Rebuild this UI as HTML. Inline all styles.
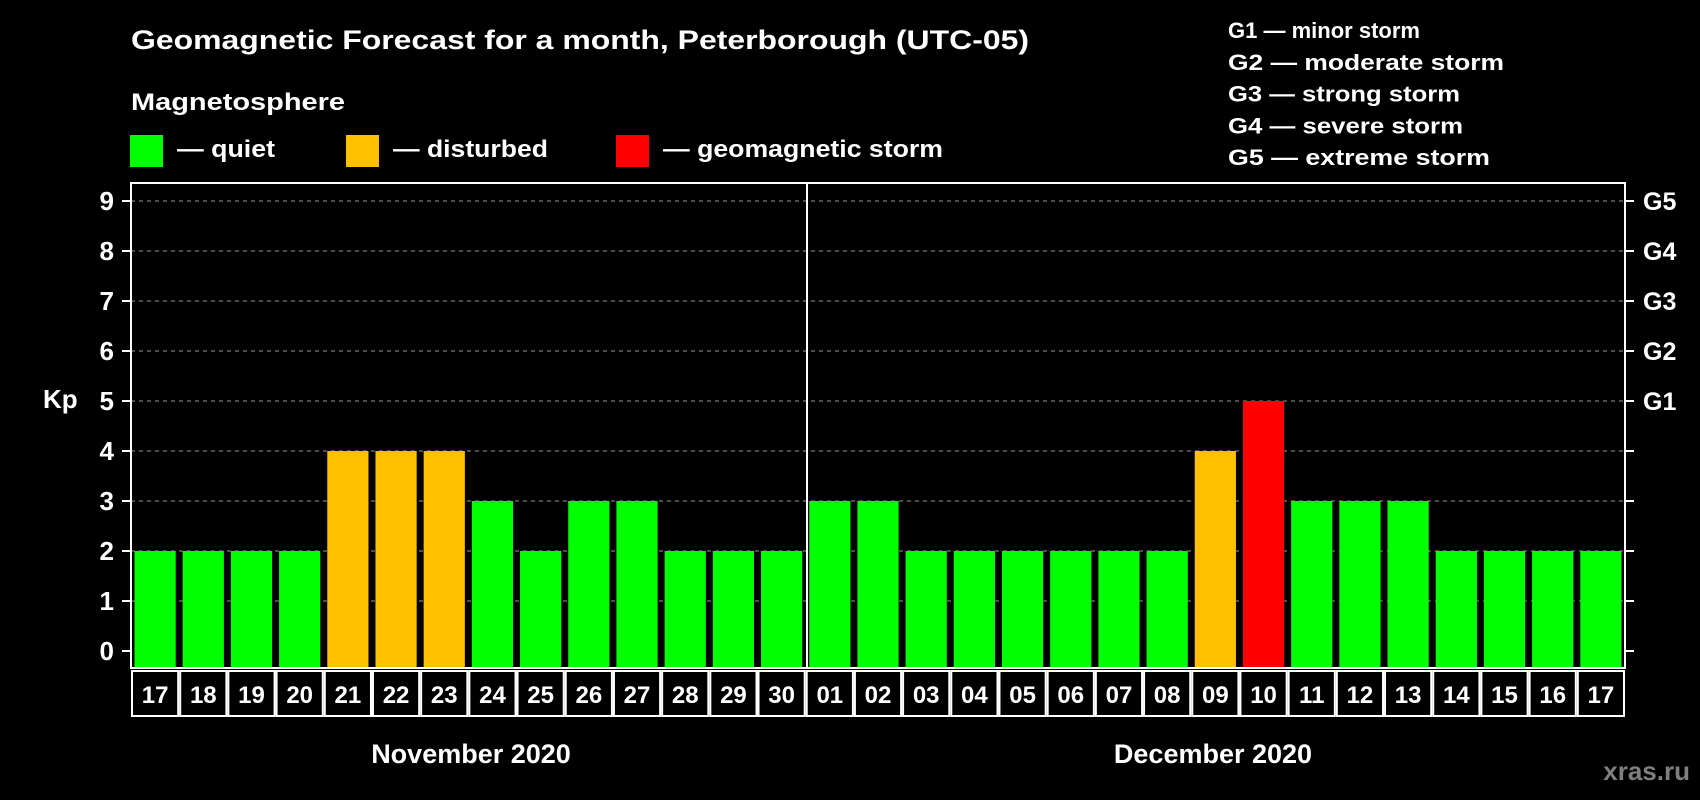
<!DOCTYPE html>
<html><head><meta charset="utf-8"><style>
html,body{margin:0;padding:0;background:#000;}
svg{display:block;font-family:"Liberation Sans",Arial,sans-serif;}
</style></head><body>
<svg id="chart" width="1700" height="800" viewBox="0 0 1700 800" xmlns="http://www.w3.org/2000/svg">
<rect x="0" y="0" width="1700" height="800" fill="#000"/>
<text x="131" y="49" fill="#fff" font-size="27" font-weight="bold" textLength="898" lengthAdjust="spacingAndGlyphs">Geomagnetic Forecast for a month, Peterborough (UTC-05)</text>
<text x="131" y="110" fill="#fff" font-size="24" font-weight="bold" textLength="214" lengthAdjust="spacingAndGlyphs">Magnetosphere</text>
<g>
<rect x="130" y="135" width="33" height="32" fill="#00ff00"/>
<text x="177" y="157" fill="#fff" font-size="24" font-weight="bold" textLength="98" lengthAdjust="spacingAndGlyphs">— quiet</text></g>
<g>
<rect x="346" y="135" width="33" height="32" fill="#ffc000"/>
<text x="393" y="157" fill="#fff" font-size="24" font-weight="bold" textLength="155" lengthAdjust="spacingAndGlyphs">— disturbed</text></g>
<g>
<rect x="616" y="135" width="33" height="32" fill="#ff0000"/>
<text x="663" y="157" fill="#fff" font-size="24" font-weight="bold" textLength="280" lengthAdjust="spacingAndGlyphs">— geomagnetic storm</text></g>
<g id="glegend" fill="#fff" font-size="22" font-weight="bold"></g>
<g id="grid"></g>
<g id="bars"></g>
<rect x="131" y="183" width="1494" height="485" fill="none" stroke="#fff" stroke-width="2"/>
<line x1="807" y1="183" x2="807" y2="668" stroke="#fff" stroke-width="2"/>
<g id="days"></g>
<text x="43" y="408" fill="#fff" font-size="26" font-weight="bold">Kp</text>
<text x="471" y="763" fill="#fff" font-size="27" font-weight="bold" text-anchor="middle">November 2020</text>
<text x="1213" y="763" fill="#fff" font-size="27" font-weight="bold" text-anchor="middle">December 2020</text>
<text x="1690" y="780" fill="#7f7f7f" font-size="26" font-weight="bold" text-anchor="end">xras.ru</text>
</svg>
<script>
const days = ["17","18","19","20","21","22","23","24","25","26","27","28","29","30","01","02","03","04","05","06","07","08","09","10","11","12","13","14","15","16","17"];
const kpValues = [2,2,2,2,4,4,4,3,2,3,3,2,2,2,3,3,2,2,2,2,2,2,4,5,3,3,3,2,2,2,2];
const yTicks = [0,1,2,3,4,5,6,7,8,9];
const gLabels = ["G1","G2","G3","G4","G5"];
const gLegend = ["G1 — minor storm","G2 — moderate storm","G3 — strong storm","G4 — severe storm","G5 — extreme storm"];

const NS="http://www.w3.org/2000/svg";
const L=131,R=1625,T=183,B=668;
const y=v=>651-v*50;
const bw=(R-L)/days.length;
const x=i=>L+i*bw;
function mk(tag,attrs,parent){const e=document.createElementNS(NS,tag);for(const k in attrs)e.setAttribute(k,attrs[k]);parent.appendChild(e);return e;}
const grid=document.getElementById('grid'),bars=document.getElementById('bars'),dg=document.getElementById('days'),gl=document.getElementById('glegend');
gLegend.forEach((s,i)=>{const w=[192,276,232,235,262][i];const t=mk('text',{x:1228,y:38+i*31.8,textLength:w,lengthAdjust:'spacingAndGlyphs'},gl);t.textContent=s;

});
yTicks.forEach(v=>{
 if(v>0){const g=mk('line',{x1:L,x2:R,y1:y(v),y2:y(v),stroke:'#999','stroke-dasharray':'4,4','stroke-width':1},grid);
 
 }
 mk('line',{x1:L-9,x2:L,y1:y(v),y2:y(v),stroke:'#fff','stroke-width':2},grid);
 mk('line',{x1:R,x2:R+9,y1:y(v),y2:y(v),stroke:'#fff','stroke-width':2},grid);
 const t=mk('text',{x:114,y:y(v)+9,fill:'#fff','font-size':26,'font-weight':'bold','text-anchor':'end'},grid);t.textContent=v;
 
 
 if(v>=5){const g=mk('text',{x:1643,y:y(v)+9,fill:'#fff','font-size':25,'font-weight':'bold'},grid);g.textContent=gLabels[v-5];
 
 }
});
kpValues.forEach((v,i)=>{
 const c=v>=5?'#ff0000':(v>=4?'#ffc000':'#00ff00');
 const r=mk('rect',{x:x(i)+3.5,y:y(v),width:bw-7,height:B-y(v),fill:c},bars);
 
 
 const b=mk('rect',{x:x(i)+1,y:671,width:bw-2,height:45,fill:'#000',stroke:'#fff','stroke-width':2},dg);
 
 
 const t=mk('text',{x:x(i)+bw/2,y:703,fill:'#fff','font-size':24,'font-weight':'bold','text-anchor':'middle'},dg);t.textContent=days[i];
 
 
});
</script>
</body></html>
